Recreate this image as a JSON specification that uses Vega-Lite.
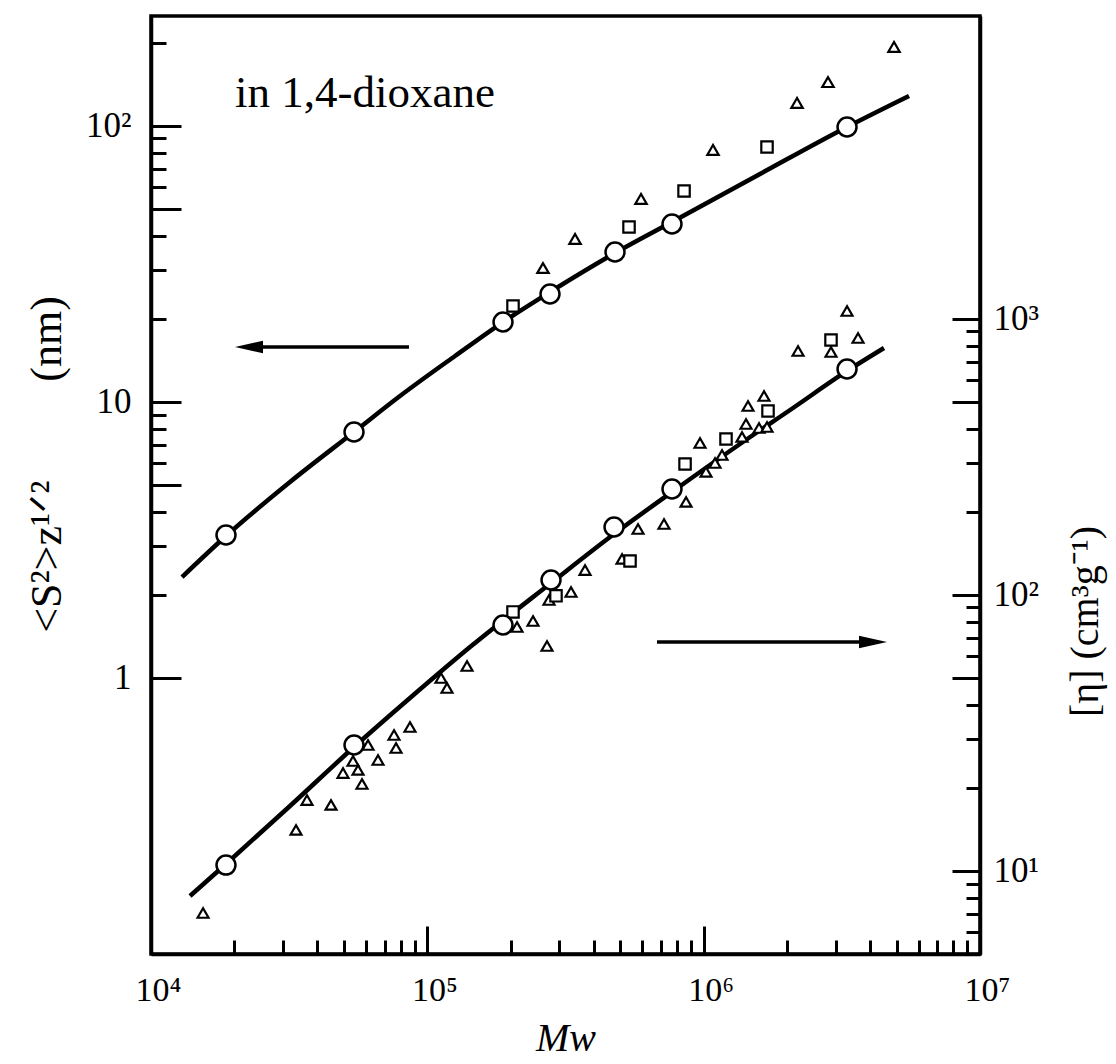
{
  "$schema": "https://vega.github.io/schema/vega-lite/v6.json",
  "width": 829,
  "height": 938,
  "autosize": {"type": "none"},
  "padding": {"left": 151, "top": 16, "right": 136, "bottom": 110},
  "background": "white",
  "config": {
    "view": {"stroke": "black", "strokeWidth": 3.5},
    "font": "Liberation Serif",
    "axis": {
      "grid": false,
      "domainColor": "black",
      "domainWidth": 3.5,
      "tickColor": "black",
      "tickWidth": 3,
      "labelColor": "black",
      "titleColor": "black",
      "labelFont": "Liberation Serif",
      "titleFont": "Liberation Serif",
      "titleFontWeight": "normal",
      "labelOverlap": false,
      "labelFlush": false,
      "labelBound": false
    }
  },
  "datasets": {
    "sCurve": [
      {"M": 12950, "S": 2.321}, {"M": 18680, "S": 3.268}, {"M": 31840, "S": 5.127},
      {"M": 54280, "S": 7.781}, {"M": 79630, "S": 10.505}, {"M": 125930, "S": 14.666},
      {"M": 187870, "S": 19.47}, {"M": 277910, "S": 25.01}, {"M": 477750, "S": 34.63},
      {"M": 768060, "S": 44.84}, {"M": 1599200, "S": 66.93}, {"M": 3302500, "S": 99.05},
      {"M": 5534800, "S": 128.3}
    ],
    "sCircle": [
      {"M": 18680, "S": 3.295}, {"M": 54280, "S": 7.781}, {"M": 187870, "S": 19.47},
      {"M": 277910, "S": 24.6}, {"M": 477750, "S": 34.92}, {"M": 768060, "S": 44.1},
      {"M": 3302500, "S": 99.05}
    ],
    "sTri": [
      {"M": 262160, "S": 30.55}, {"M": 342360, "S": 38.92}, {"M": 593340, "S": 54.33},
      {"M": 1080900, "S": 81.76}, {"M": 2177000, "S": 121.0}, {"M": 2818200, "S": 144.1},
      {"M": 4884300, "S": 193.1}
    ],
    "sSq": [
      {"M": 204190, "S": 22.25}, {"M": 536880, "S": 43.01}, {"M": 849140, "S": 58.08},
      {"M": 1695200, "S": 83.83}
    ],
    "eCurve": [
      {"M": 13840, "eta": 8.11}, {"M": 18680, "eta": 10.59}, {"M": 31840, "eta": 17.18},
      {"M": 54280, "eta": 28.11}, {"M": 86540, "eta": 42.31}, {"M": 142710, "eta": 64.72},
      {"M": 280240, "eta": 110.4}, {"M": 473800, "eta": 166.1}, {"M": 768060, "eta": 235.9},
      {"M": 1353700, "eta": 352.0}, {"M": 2105600, "eta": 475.2}, {"M": 3302500, "eta": 647.1},
      {"M": 4494200, "eta": 783.8}
    ],
    "eCircle": [
      {"M": 18680, "eta": 10.5}, {"M": 54280, "eta": 28.58}, {"M": 187870, "eta": 77.76},
      {"M": 280240, "eta": 113.2}, {"M": 473800, "eta": 176.1}, {"M": 768060, "eta": 241.8},
      {"M": 3302500, "eta": 657.9}
    ],
    "eTri": [
      {"M": 15430, "eta": 7.039}, {"M": 33480, "eta": 14.07}, {"M": 36690, "eta": 18.06},
      {"M": 44810, "eta": 17.33}, {"M": 49530, "eta": 22.62}, {"M": 53830, "eta": 25.01},
      {"M": 56120, "eta": 23.21}, {"M": 58020, "eta": 20.64}, {"M": 61000, "eta": 28.58},
      {"M": 66300, "eta": 25.22}, {"M": 75760, "eta": 31.07}, {"M": 77040, "eta": 27.87},
      {"M": 86540, "eta": 33.21}, {"M": 112070, "eta": 49.97}, {"M": 117810, "eta": 45.97},
      {"M": 139190, "eta": 55.24}, {"M": 211110, "eta": 76.47}, {"M": 241240, "eta": 80.4},
      {"M": 271050, "eta": 65.27}, {"M": 275600, "eta": 95.79}, {"M": 331140, "eta": 102.4},
      {"M": 372100, "eta": 123.0}, {"M": 506440, "eta": 134.9}, {"M": 578690, "eta": 173.2},
      {"M": 718520, "eta": 180.6}, {"M": 863410, "eta": 217.0}, {"M": 969960, "eta": 354.9},
      {"M": 1019700, "eta": 278.7}, {"M": 1099100, "eta": 300.4}, {"M": 1165100, "eta": 321.1},
      {"M": 1376400, "eta": 373.2}, {"M": 1423100, "eta": 415.8}, {"M": 1447000, "eta": 483.2},
      {"M": 1585900, "eta": 402.2}, {"M": 1695200, "eta": 405.6}, {"M": 1653400, "eta": 525.2},
      {"M": 2195200, "eta": 764.4}, {"M": 2889500, "eta": 758.1}, {"M": 3302500, "eta": 1067.3},
      {"M": 3619300, "eta": 851.9}
    ],
    "eSq": [
      {"M": 204190, "eta": 86.69}, {"M": 292150, "eta": 99.21}, {"M": 541380, "eta": 132.6},
      {"M": 856250, "eta": 297.9}, {"M": 1204600, "eta": 366.9}, {"M": 1709400, "eta": 463.4},
      {"M": 2889500, "eta": 837.8}
    ],
    "leftArrow": [{"M": 85820, "M2": 21890, "S": 15.81}],
    "leftTip": [{"M": 20140, "S": 15.81}],
    "rightArrow": [{"M": 677800, "M2": 4239800, "eta": 67.49}],
    "rightTip": [{"M": 4607700, "eta": 67.49}],
    "note": [{"M": 20140, "S": 117.0, "label": "in 1,4-dioxane"}]
  },
  "encoding": {
    "x": {
      "field": "M",
      "type": "quantitative",
      "scale": {"type": "log", "domain": [10000, 10000000], "nice": false},
      "axis": {
        "orient": "bottom",
        "values": [10000, 20000, 30000, 40000, 50000, 60000, 70000, 80000, 90000,
                   100000, 200000, 300000, 400000, 500000, 600000, 700000, 800000, 900000,
                   1000000, 2000000, 3000000, 4000000, 5000000, 6000000, 7000000, 8000000, 9000000, 10000000],
        "labelExpr": "datum.value == 10000 ? '10⁴' : datum.value == 100000 ? '10⁵' : datum.value == 1000000 ? '10⁶' : datum.value == 10000000 ? '10⁷' : ''",
        "tickSize": {"condition": {"test": "indexof([10000, 100000, 1000000, 10000000], datum.value) >= 0", "value": -28}, "value": -14},
        "labelFontSize": 34,
        "labelPadding": 47,
        "labelOffset": 7,
        "title": "Mw",
        "titleFontSize": 40,
        "titleFontStyle": "italic",
        "titleY": 96,
        "titleBaseline": "alphabetic"
      }
    }
  },
  "layer": [
    {
      "encoding": {
        "y": {
          "field": "S",
          "type": "quantitative",
          "scale": {"type": "log", "domain": [0.1, 250], "nice": false},
          "axis": {
            "orient": "left",
            "values": [1, 2, 3, 4, 5, 6, 7, 8, 9, 10, 20, 30, 40, 50, 60, 70, 80, 90, 100, 200],
            "labelExpr": "datum.value == 1 ? '1' : datum.value == 10 ? '10' : datum.value == 100 ? '10²' : ''",
            "tickSize": {"condition": {"test": "indexof([1, 5, 10, 50, 100], datum.value) >= 0", "value": -30}, "value": -15},
            "labelFontSize": 35,
            "labelPadding": 50,
            "title": "<S²>z¹ᐟ²\u2003\u2003 (nm)",
            "titleFontSize": 44,
            "titleAngle": 270,
            "titleX": -104,
            "titleY": 448,
            "titleAlign": "center",
            "titleBaseline": "middle"
          }
        }
      },
      "layer": [
        {"data": {"name": "sCurve"}, "mark": {"type": "line", "color": "black", "strokeWidth": 4.5, "interpolate": "monotone"}},
        {"data": {"name": "sTri"}, "mark": {"type": "point", "shape": "triangle-up", "size": 130, "filled": true, "fill": "white", "stroke": "black", "strokeWidth": 2.2, "opacity": 1}},
        {"data": {"name": "sSq"}, "mark": {"type": "point", "shape": "square", "size": 130, "filled": true, "fill": "white", "stroke": "black", "strokeWidth": 2.2, "opacity": 1}},
        {"data": {"name": "sCircle"}, "mark": {"type": "point", "shape": "circle", "size": 360, "filled": true, "fill": "white", "stroke": "black", "strokeWidth": 2.5, "opacity": 1}},
        {"data": {"name": "leftArrow"}, "mark": {"type": "rule", "color": "black", "strokeWidth": 3.5}, "encoding": {"x2": {"field": "M2"}}},
        {"data": {"name": "leftTip"}, "mark": {"type": "point", "shape": "M0,0L2,-0.45L2,0.45Z", "size": 784, "filled": true, "fill": "black", "strokeWidth": 0, "opacity": 1}},
        {"data": {"name": "note"}, "mark": {"type": "text", "font": "Liberation Serif", "fontSize": 45, "align": "left", "baseline": "alphabetic", "color": "black"}, "encoding": {"text": {"field": "label"}}}
      ]
    },
    {
      "encoding": {
        "y": {
          "field": "eta",
          "type": "quantitative",
          "scale": {"type": "log", "domain": [5, 12500], "nice": false},
          "axis": {
            "orient": "right",
            "values": [6, 7, 8, 9, 10, 20, 30, 40, 50, 60, 70, 80, 90, 100, 200, 300, 400, 500, 600, 700, 800, 900, 1000],
            "labelExpr": "datum.value == 10 ? '10¹' : datum.value == 100 ? '10²' : datum.value == 1000 ? '10³' : ''",
            "tickSize": {"condition": {"test": "indexof([10, 50, 100, 500, 1000], datum.value) >= 0", "value": -28}, "value": -14},
            "labelFontSize": 35,
            "labelPadding": 41,
            "title": "[η]  (cm³g⁻¹)",
            "titleFontSize": 40,
            "titleAngle": 270,
            "titleX": 105,
            "titleY": 605,
            "titleAlign": "center",
            "titleBaseline": "middle"
          }
        }
      },
      "layer": [
        {"data": {"name": "eCurve"}, "mark": {"type": "line", "color": "black", "strokeWidth": 4.5, "interpolate": "monotone"}},
        {"data": {"name": "eTri"}, "mark": {"type": "point", "shape": "triangle-up", "size": 120, "filled": true, "fill": "white", "stroke": "black", "strokeWidth": 2.2, "opacity": 1}},
        {"data": {"name": "eSq"}, "mark": {"type": "point", "shape": "square", "size": 130, "filled": true, "fill": "white", "stroke": "black", "strokeWidth": 2.2, "opacity": 1}},
        {"data": {"name": "eCircle"}, "mark": {"type": "point", "shape": "circle", "size": 360, "filled": true, "fill": "white", "stroke": "black", "strokeWidth": 2.5, "opacity": 1}},
        {"data": {"name": "rightArrow"}, "mark": {"type": "rule", "color": "black", "strokeWidth": 3.5}, "encoding": {"x2": {"field": "M2"}}},
        {"data": {"name": "rightTip"}, "mark": {"type": "point", "shape": "M0,0L-2,-0.45L-2,0.45Z", "size": 784, "filled": true, "fill": "black", "strokeWidth": 0, "opacity": 1}}
      ]
    }
  ],
  "resolve": {"scale": {"y": "independent"}}
}
